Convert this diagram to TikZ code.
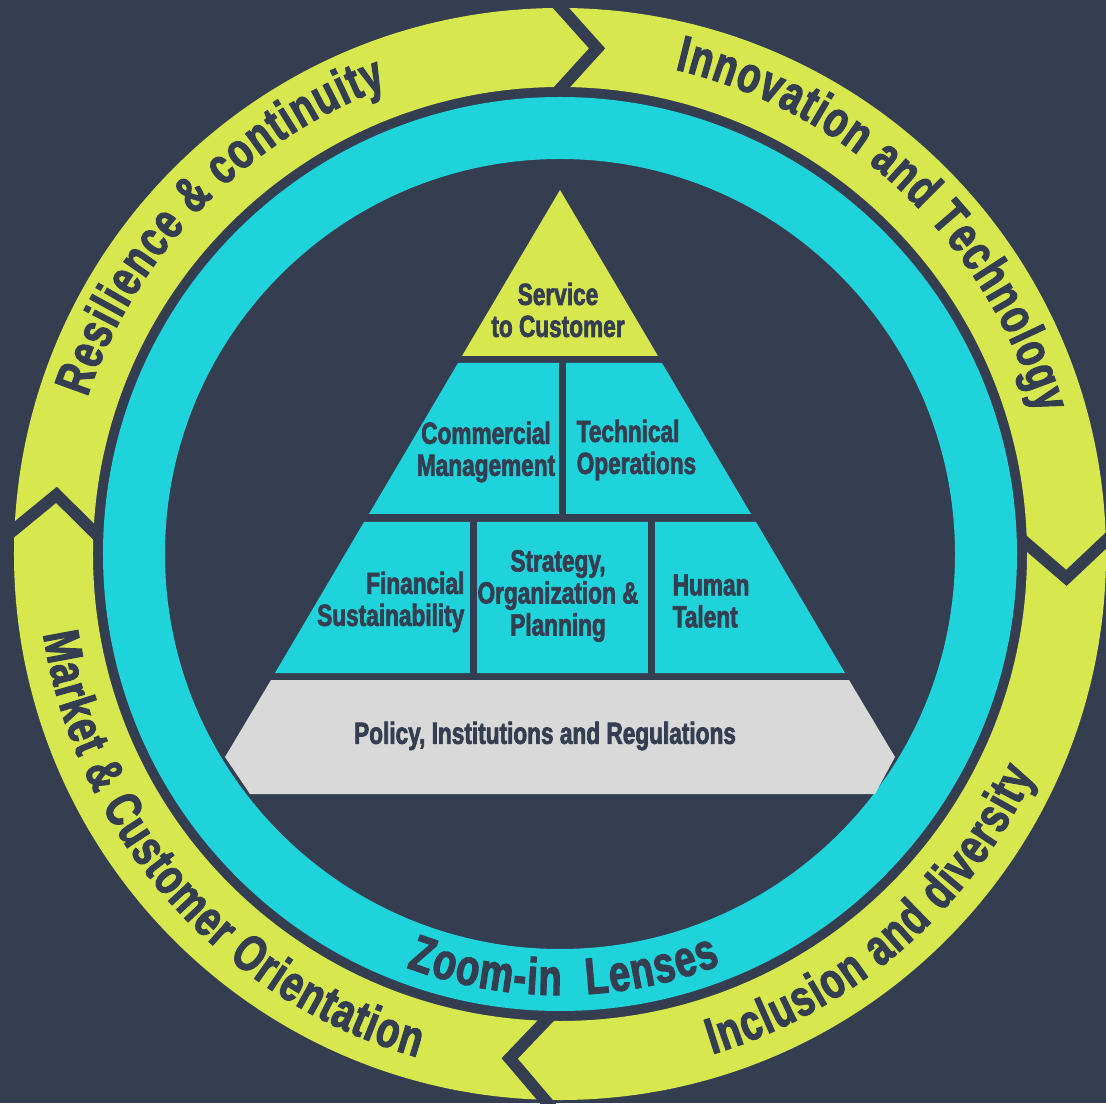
\documentclass[tikz,border=0pt]{standalone}
\usepackage{fontspec}
\newfontfamily\condfont{Liberation Sans}[FakeStretch=0.74, FakeBold=2.2]
\definecolor{bgslate}{HTML}{343E50}
\definecolor{ringlime}{HTML}{D7E84E}
\definecolor{ringaqua}{HTML}{1FD3DA}
\definecolor{pyrgrey}{HTML}{D9D9D9}

\tikzset{
  pyrtext/.style={font=\condfont\bfseries\fontsize{8.7}{9.1}\selectfont, text=bgslate, inner sep=0pt},
  ringchar/.style={font=\condfont\bfseries\fontsize{#1}{#1}\selectfont, text=bgslate, inner sep=0pt, anchor=base},
  chevron/.style={draw=bgslate, line width=0.12cm, miter limit=10},
  divider/.style={draw=bgslate, line width=0.07cm},
}

\newdimen\chw
\newdimen\txtw
\newdimen\accw
\makeatletter
% letters set one by one round the ring
% #1 name, #2 radius (cm), #3 middle angle, #4 1 = anticlockwise / -1 = clockwise, #5 size (pt), #6 letters
\newcommand\ringlabel[6]{%
  \global\txtw=0pt
  \foreach \ch in {#6}{%
    \node[ringchar=#5] (ringtmp) at (0,-5.3) {\phantom{\ch}};
    \pgfextractx{\chw}{\pgfpointdiff{\pgfpointanchor{ringtmp}{west}}{\pgfpointanchor{ringtmp}{east}}}%
    \global\advance\txtw by \chw
  }%
  \global\accw=0pt
  \foreach \ch [count=\i] in {#6}{%
    \node[ringchar=#5] (ringtmp) at (0,-5.3) {\phantom{\ch}};
    \pgfextractx{\chw}{\pgfpointdiff{\pgfpointanchor{ringtmp}{west}}{\pgfpointanchor{ringtmp}{east}}}%
    \dimen0=\accw \advance\dimen0 by 0.5\chw \advance\dimen0 by -0.5\txtw
    \pgfmathsetmacro\ang{#3 + #4*(\strip@pt\dimen0)/(#2*28.4528)*57.29578}%
    \pgfmathsetmacro\rot{\ang + #4*90}%
    \node[ringchar=#5, rotate=\rot] (#1-\i) at (\ang:#2) {\ch};
    \global\advance\accw by \chw
  }%
}
\makeatother

\begin{document}
\begin{tikzpicture}
      \useasboundingbox (-5.60,-5.49) rectangle (5.46,5.54);
      \fill[bgslate] (-5.60,-5.49) rectangle (5.46,5.54);

      % Outer ring with the four arrows
      \fill[ringlime, even odd rule] (0,0) circle (5.46) (0,0) circle (4.67);
      \foreach \a in {91,2.5,-90.5,178.5}
        \draw[chevron] (\a:5.58) -- ({\a-5.2}:5.07) -- (\a:4.56);

      % Inner ring
      \fill[ringaqua, even odd rule] (0,0) circle (4.57) (0,0) circle (3.95);

      % Texts on the rings
      \ringlabel{resilience}{4.98}{136}{-1}{14.5}{R,e,s,i,l,i,e,n,c,e,\ ,\&,\ ,c,o,n,t,i,n,u,i,t,y}
      \ringlabel{innovation}{4.98}{46.5}{-1}{14.5}{I,n,n,o,v,a,t,i,o,n,\ ,a,n,d,\ ,T,e,c,h,n,o,l,o,g,y}
      \ringlabel{inclusion}{5.23}{-49}{1}{14.5}{I,n,c,l,u,s,i,o,n,\ ,a,n,d,\ ,d,i,v,e,r,s,i,t,y}
      \ringlabel{market}{5.23}{-138.5}{1}{14.5}{M,a,r,k,e,t,\ ,\&,\ ,C,u,s,t,o,m,e,r,\ ,O,r,i,e,n,t,a,t,i,o,n}
      \ringlabel{lenses}{4.41}{-89.5}{1}{14.6}{Z,o,o,m,-,i,n,\ ,\ ,L,e,n,s,e,s}

      % Pyramid tiers
      \fill[ringlime] (0,3.64) -- (0.98,1.98) -- (-0.98,1.98) -- cycle;
      \fill[ringaqua] (-1.02,1.91) -- (1.02,1.91) -- (1.91,0.40) -- (-1.91,0.40) -- cycle;
      \fill[ringaqua] (-1.96,0.32) -- (1.96,0.32) -- (2.85,-1.19) -- (-2.85,-1.19) -- cycle;
      \fill[pyrgrey] (-2.89,-1.26) -- (2.89,-1.26) -- (3.35,-2.03) -- (3.15,-2.40)
        -- (-3.10,-2.40) -- (-3.35,-2.03) -- cycle;
      \draw[divider] (0.025,1.95) -- (0.025,0.36);
      \draw[divider] (-0.865,0.36) -- (-0.865,-1.23);
      \draw[divider] (0.915,0.36) -- (0.915,-1.23);

      % Pyramid labels
      \node[pyrtext, align=center] (service) at (-0.02,2.44) {Service\\to Customer};
      \node[pyrtext, align=center] (commercial) at (-0.74,1.02) {Commercial\\Management};
      \node[pyrtext, align=left, anchor=west] (technical) at (0.16,1.04) {Technical\\Operations};
      \node[pyrtext, align=right, anchor=east] (financial) at (-0.95,-0.48) {Financial\\Sustainability};
      \node[pyrtext, align=center] (strategy) at (-0.02,-0.42) {Strategy,\\Organization \&\\Planning};
      \node[pyrtext, align=left, anchor=west] (human) at (1.12,-0.47) {Human\\Talent};
      \node[pyrtext] (policy) at (-0.15,-1.82) {Policy, Institutions and Regulations};
    \end{tikzpicture}
\end{document}
